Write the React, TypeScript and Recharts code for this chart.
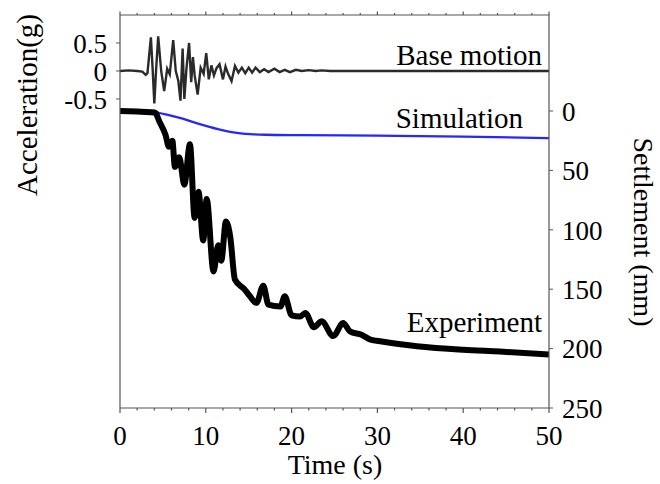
import React from "react";
import { ComposedChart, Line, XAxis, YAxis, Customized } from "recharts";

// Base motion (acceleration, g)
const baseTime = [0, 1, 2, 2.6, 3.0, 3.2, 3.6, 3.8, 4.0, 4.2, 4.45, 4.8, 5.15, 5.5, 5.8, 6.2, 6.5, 6.8, 7.05, 7.3, 7.5, 7.75, 8.05, 8.3, 8.5, 8.7, 9.05, 9.4, 9.75, 10.05, 10.35, 10.65, 10.95, 11.25, 11.6, 12.0, 12.3, 12.6, 13.0, 13.4, 13.8, 14.2, 14.6, 15.0, 15.4, 15.8, 16.3, 16.8, 17.3, 18.0, 18.6, 19.2, 19.8, 20.5, 21.2, 22.0, 22.8, 23.5, 24.5, 25.5, 30, 40, 50];
const baseAcc = [0, 0.01, 0, -0.01, -0.07, -0.04, 0.6, 0.05, -0.58, 0.0, 0.62, 0.0, -0.36, 0.04, -0.06, 0.55, 0.0, -0.18, -0.53, 0.4, -0.5, 0.05, 0.5, -0.2, 0.25, -0.08, -0.42, 0.06, -0.05, 0.32, -0.15, 0.1, -0.08, 0.05, 0.12, -0.15, 0.08, -0.05, -0.18, 0.09, -0.03, 0.06, -0.04, 0.06, -0.03, 0.06, -0.02, 0.03, -0.02, 0.04, -0.02, 0.02, -0.02, 0.02, 0.0, 0.015, 0.0, 0.01, 0, 0, 0, 0, 0];

// Simulation settlement (mm)
const simTime = [0, 4.0, 4.5, 5.8, 7.3, 9.3, 11.3, 13.2, 15.2, 17, 21, 30, 40, 50];
const simSettle = [0, 0, 1.5, 3.6, 6.5, 11, 15, 18, 19.5, 20, 20.3, 20.8, 21.5, 22.8];

// Experiment settlement (mm)
const expTime = [0, 2, 3.5, 4.1, 4.6, 5.3, 5.7, 6.1, 6.4, 6.9, 7.5, 8.15, 8.7, 9.15, 9.7, 10.1, 10.9, 11.45, 11.8, 12.35, 12.85, 13.4, 14.5, 15.15, 15.9, 16.7, 17.3, 18.7, 19.2, 20.0, 21.0, 21.6, 22.6, 23.5, 24.85, 26.0, 26.8, 28.2, 29.2, 30.5, 34.6, 40, 44.3, 50];
const expSettle = [0, 0.5, 1, 1.5, 9, 20, 30, 25, 47, 39, 62, 28, 90, 68, 109, 74, 135, 113, 126, 93, 106, 142, 150, 156, 161.5, 147, 163, 164.5, 156, 172, 173, 170, 182, 177, 189.5, 178.5, 185.5, 188.5, 192.5, 194, 198, 201, 202.5, 205];

const timeTicks = [0, 2, 4, 6, 8, 10, 12, 14, 16, 18, 20, 22, 24, 26, 28, 30, 32, 34, 36, 38, 40, 42, 44, 46, 48, 50];
const accTicks = [-0.5, 0, 0.5];
const settleTicks = [0, 50, 100, 150, 200, 250];

const baseData = baseTime.map((t, i) => ({ t, acc: baseAcc[i] }));
const simData = simTime.map((t, i) => ({ t, s: simSettle[i] }));
const expData = expTime.map((t, i) => ({ t, s: expSettle[i] }));

const FONT = "Liberation Serif, Times New Roman, serif";
const AXIS = "#555";

function BottomTick(props: any) {
  const { x, y, payload } = props;
  const major = payload.value % 10 === 0;
  return (
    <g>
      <line x1={x} x2={x} y1={y} y2={y + (major ? 5 : 2.5)} stroke={AXIS} strokeWidth={1.2} />
      {major && (
        <text x={x} y={y + 37} textAnchor="middle" fill="#000" style={{ fontFamily: FONT, fontSize: 27 }}>
          {payload.value}
        </text>
      )}
    </g>
  );
}

function TopTick(props: any) {
  const { x, y, payload } = props;
  const major = payload.value % 10 === 0;
  return <line x1={x} x2={x} y1={y} y2={y - (major ? 3.5 : 2)} stroke={AXIS} strokeWidth={1.2} />;
}

function SideTick(props: any) {
  const { x, y, payload, textAnchor } = props;
  return (
    <text x={x} y={y} dy="0.36em" textAnchor={textAnchor} fill="#000" style={{ fontFamily: FONT, fontSize: 27 }}>
      {payload.value}
    </text>
  );
}

function Texts() {
  const st = { fontFamily: FONT };
  return (
    <g fill="#000">
      <text style={{ ...st, fontSize: 29 }} transform="translate(37,105) rotate(-90)" textAnchor="middle">Acceleration(g)</text>
      <text style={{ ...st, fontSize: 28 }} transform="translate(634,232) rotate(90)" textAnchor="middle">Settlement (mm)</text>
      <text style={{ ...st, fontSize: 28 }} x={335} y={474} textAnchor="middle">Time (s)</text>
      <text style={{ ...st, fontSize: 29 }} x={542} y={65} textAnchor="end">Base motion</text>
      <text style={{ ...st, fontSize: 29 }} x={523} y={128} textAnchor="end">Simulation</text>
      <text style={{ ...st, fontSize: 29 }} x={542} y={332} textAnchor="end">Experiment</text>
    </g>
  );
}

export default function App() {
  return (
    <div style={{ position: "absolute", left: 0, top: 0, background: "#fff" }}>
      <ComposedChart width={660} height={484} margin={{ top: 0, right: 0, bottom: 0, left: 0 }}>
        <XAxis
          xAxisId="b"
          type="number"
          dataKey="t"
          domain={[0, 50]}
          ticks={timeTicks}
          interval={0}
          allowDataOverflow
          height={76}
          tickLine={false}
          tickSize={0}
          tickMargin={0}
          tick={<BottomTick />}
          axisLine={{ stroke: AXIS, strokeWidth: 1.2 }}
        />
        <XAxis
          xAxisId="top"
          orientation="top"
          type="number"
          dataKey="t"
          domain={[0, 50]}
          ticks={timeTicks}
          interval={0}
          allowDataOverflow
          height={15}
          tickLine={false}
          tickSize={0}
          tickMargin={0}
          tick={<TopTick />}
          axisLine={{ stroke: AXIS, strokeWidth: 1.2 }}
        />
        <YAxis
          yAxisId="acc"
          type="number"
          domain={[-6.02, 1.0]}
          ticks={accTicks}
          interval={0}
          allowDataOverflow
          width={120}
          tickSize={4}
          tickMargin={9}
          tickLine={{ stroke: AXIS }}
          axisLine={{ stroke: AXIS, strokeWidth: 1.2 }}
          tick={<SideTick />}
        />
        <YAxis
          yAxisId="s"
          orientation="right"
          type="number"
          domain={[-80.8, 250]}
          reversed
          ticks={settleTicks}
          interval={0}
          allowDataOverflow
          width={111}
          tickSize={4}
          tickMargin={9}
          tickLine={{ stroke: AXIS }}
          axisLine={{ stroke: AXIS, strokeWidth: 1.2 }}
          tick={<SideTick />}
        />
        <Line
          xAxisId="b"
          yAxisId="acc"
          data={baseData}
          dataKey="acc"
          type="linear"
          stroke="#2a2a2a"
          strokeWidth={2.4}
          dot={false}
          isAnimationActive={false}
        />
        <Line
          xAxisId="b"
          yAxisId="s"
          data={simData}
          dataKey="s"
          type="monotone"
          stroke="#2626ff"
          strokeWidth={2.3}
          dot={false}
          isAnimationActive={false}
        />
        <Line
          xAxisId="b"
          yAxisId="s"
          data={expData}
          dataKey="s"
          type="monotone"
          stroke="#000"
          strokeWidth={6}
          strokeLinejoin="round"
          dot={false}
          isAnimationActive={false}
        />
        <Customized component={Texts} />
      </ComposedChart>
    </div>
  );
}
